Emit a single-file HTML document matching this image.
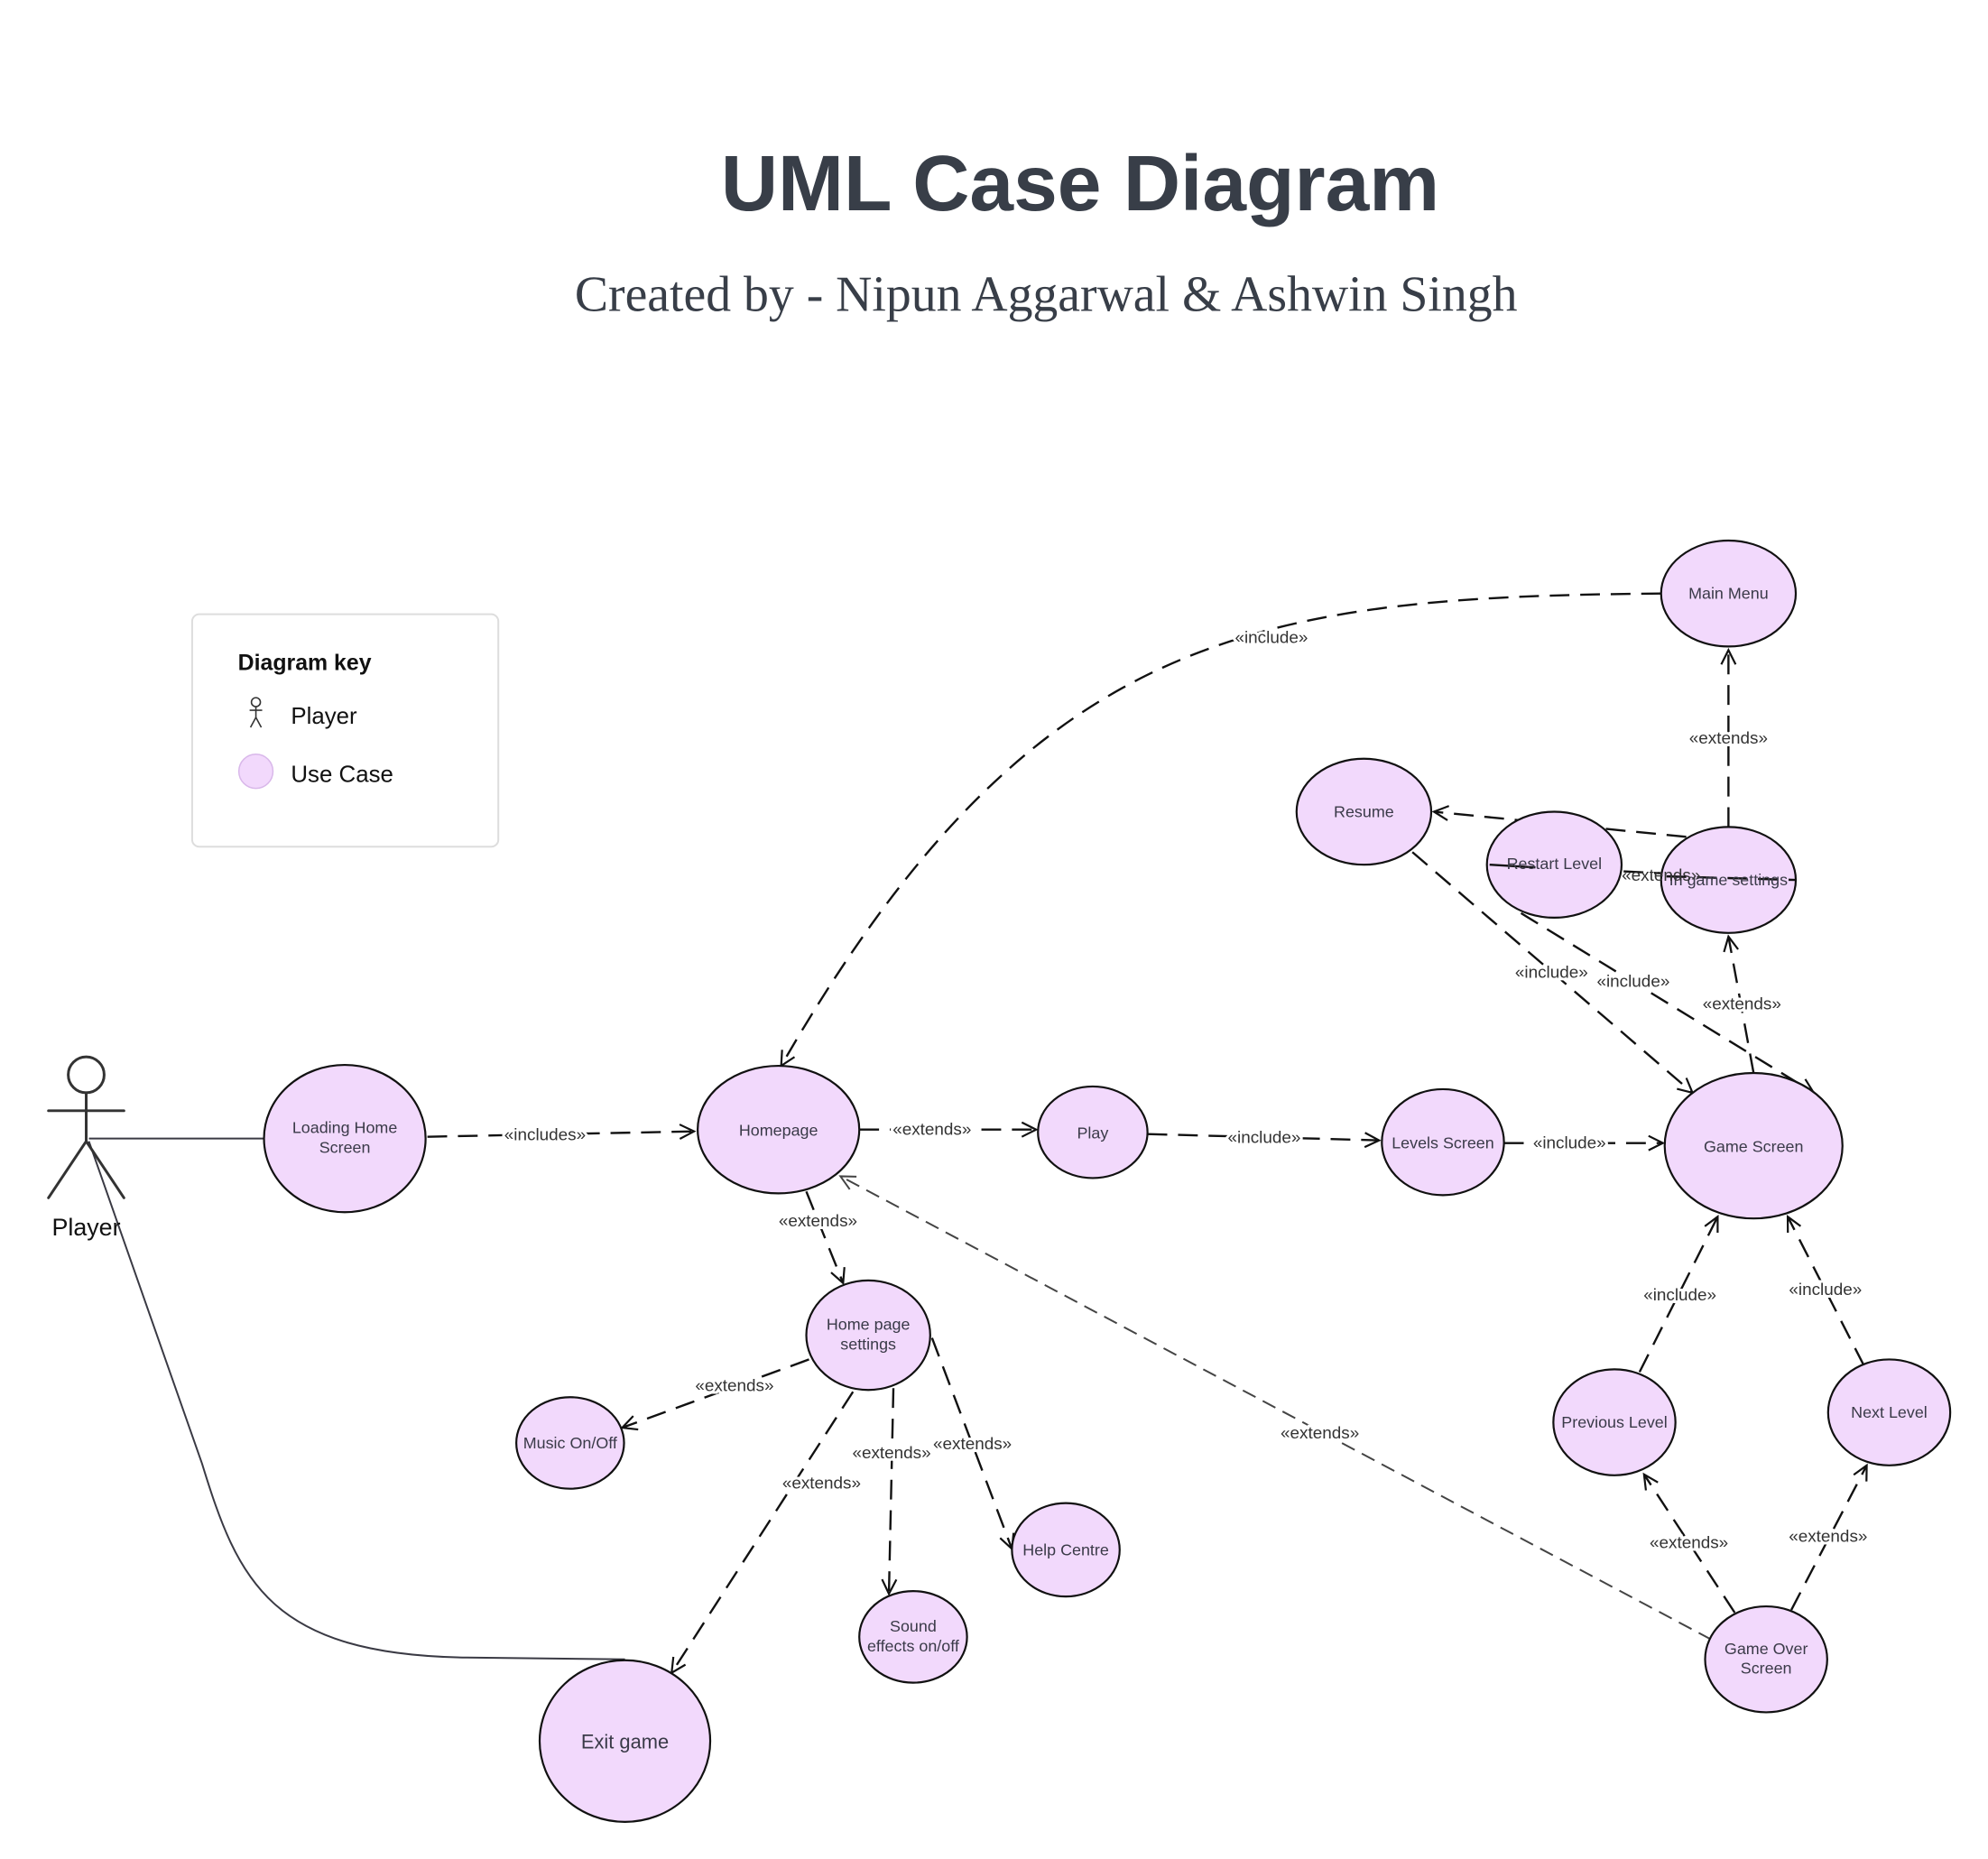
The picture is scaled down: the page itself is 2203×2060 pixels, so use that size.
<!DOCTYPE html>
<html><head><meta charset="utf-8"><style>
html,body{margin:0;padding:0;background:#fff;}
body{width:2203px;height:2060px;overflow:hidden;position:relative;font-family:"Liberation Sans",sans-serif;}
</style></head><body>
<svg width="2203" height="2060" viewBox="0 0 2203 2060" xmlns="http://www.w3.org/2000/svg" style="position:absolute;left:0;top:0">
<defs>
<marker id="a" markerWidth="22" markerHeight="22" refX="19" refY="11" orient="auto" markerUnits="userSpaceOnUse">
<path d="M3,3 L19,11 L3,19" fill="none" stroke="#111" stroke-width="2.2"/>
</marker>
<marker id="g" markerWidth="22" markerHeight="22" refX="19" refY="11" orient="auto" markerUnits="userSpaceOnUse">
<path d="M3,3 L19,11 L3,19" fill="none" stroke="#444" stroke-width="2"/>
</marker>
</defs>
<g transform="scale(0.995)">
<text x="1203" y="234" text-anchor="middle" font-family="Liberation Sans,sans-serif" font-weight="bold" font-size="88" fill="#383e48">UML Case Diagram</text>
<text x="1165" y="346" text-anchor="middle" font-family="Liberation Serif,serif" font-size="56" fill="#383e48">Created by -  Nipun Aggarwal &amp; Ashwin Singh</text>

<rect x="214" y="684" width="341" height="259" rx="8" fill="#fff" stroke="#ddd" stroke-width="2"/>
<text x="265" y="746" font-size="25" font-weight="bold" fill="#111">Diagram key</text>
<g stroke="#333" stroke-width="1.6" fill="none">
<circle cx="285" cy="782" r="5"/><line x1="285" y1="787" x2="285" y2="799"/><line x1="278" y1="791" x2="292" y2="791"/>
<line x1="285" y1="799" x2="279" y2="810"/><line x1="285" y1="799" x2="291" y2="810"/></g>
<text x="324" y="806" font-size="26" fill="#111">Player</text>
<circle cx="285" cy="859" r="19" fill="#f2d9fc" stroke="#d9b8ea" stroke-width="1.5"/>
<text x="324" y="871" font-size="26" fill="#111">Use Case</text>

<g fill="none" stroke="#3a3a44" stroke-width="2">
<line x1="99" y1="1268" x2="295" y2="1268"/>
<path d="M99 1271 L225 1630 C265 1760 300 1843 520 1846 L696 1848"/>
</g>

<g fill="none" stroke="#111" stroke-width="2.4" stroke-dasharray="22 12">
<line x1="476" y1="1266" x2="773" y2="1260" marker-end="url(#a)"/>
<line x1="957" y1="1258" x2="1154" y2="1258" marker-end="url(#a)"/>
<line x1="1278" y1="1263" x2="1536" y2="1270" marker-end="url(#a)"/>
<line x1="1675" y1="1273" x2="1852" y2="1273" marker-end="url(#a)"/>
<path d="M1850 661 C1400 665 1150 700 870 1187" marker-end="url(#a)"/>
<line x1="1925" y1="921" x2="1925" y2="724" marker-end="url(#a)"/>
<line x1="1878" y1="932" x2="1597" y2="904" marker-end="url(#a)"/>
<line x1="2000" y1="980" x2="1659" y2="963" marker-end="url(#a)"/>
<line x1="1573" y1="949" x2="1885" y2="1217" marker-end="url(#a)"/>
<line x1="1694" y1="1017" x2="2020" y2="1217" marker-end="url(#a)"/>
<line x1="1953" y1="1195" x2="1925" y2="1043" marker-end="url(#a)"/>
<line x1="1826" y1="1528" x2="1913" y2="1355" marker-end="url(#a)"/>
<line x1="2076" y1="1521" x2="1991" y2="1355" marker-end="url(#a)"/>
<line x1="1932" y1="1796" x2="1831" y2="1642" marker-end="url(#a)"/>
<line x1="1995" y1="1793" x2="2079" y2="1632" marker-end="url(#a)"/>
<line x1="898" y1="1327" x2="939" y2="1429" marker-end="url(#a)"/>
<line x1="901" y1="1514" x2="693" y2="1590" marker-end="url(#a)"/>
<line x1="995" y1="1546" x2="990" y2="1775" marker-end="url(#a)"/>
<line x1="1038" y1="1490" x2="1127" y2="1725" marker-end="url(#a)"/>
<line x1="950" y1="1550" x2="748" y2="1863" marker-end="url(#a)"/>
</g>
<line x1="1906" y1="1826" x2="936" y2="1310" stroke="#444" stroke-width="2" stroke-dasharray="16 9" fill="none" marker-end="url(#g)"/>

<g fill="#f2d9fc" stroke="#111" stroke-width="2.2">
<ellipse cx="384" cy="1268" rx="90" ry="82"/>
<ellipse cx="867" cy="1258" rx="90" ry="71"/>
<ellipse cx="1217" cy="1261" rx="61" ry="51"/>
<ellipse cx="1607" cy="1272" rx="68" ry="59"/>
<ellipse cx="1953" cy="1276" rx="99" ry="81"/>
<ellipse cx="1925" cy="661" rx="75" ry="59"/>
<ellipse cx="1519" cy="904" rx="75" ry="59"/>
<ellipse cx="1731" cy="963" rx="75" ry="59"/>
<ellipse cx="1925" cy="980" rx="75" ry="59"/>
<ellipse cx="1798" cy="1584" rx="68" ry="59"/>
<ellipse cx="2104" cy="1573" rx="68" ry="59"/>
<ellipse cx="1967" cy="1848" rx="68" ry="59"/>
<ellipse cx="967" cy="1487" rx="69" ry="61"/>
<ellipse cx="635" cy="1607" rx="60" ry="51"/>
<ellipse cx="1017" cy="1823" rx="60" ry="51"/>
<ellipse cx="1187" cy="1726" rx="60" ry="52"/>
<ellipse cx="696" cy="1939" rx="95" ry="90"/>
</g>
<line x1="1659" y1="963" x2="1710" y2="966" stroke="#111" stroke-width="2.4"/>
<line x1="1856" y1="976" x2="2000" y2="980" stroke="#111" stroke-width="2.4" stroke-dasharray="22 12"/>

<g stroke="#333" stroke-width="3" fill="none" stroke-linecap="round">
<circle cx="96" cy="1197" r="20"/>
<line x1="96" y1="1217" x2="96" y2="1271"/>
<line x1="54" y1="1237" x2="138" y2="1237"/>
<line x1="96" y1="1271" x2="54" y2="1334"/>
<line x1="96" y1="1271" x2="138" y2="1334"/>
</g>
<text x="96" y="1376" text-anchor="middle" font-size="27" fill="#111">Player</text>

<g font-size="18" fill="#3a3a48" text-anchor="middle">
<text x="384" y="1262">Loading Home</text><text x="384" y="1284">Screen</text>
<text x="867" y="1265">Homepage</text>
<text x="1217" y="1268">Play</text>
<text x="1607" y="1279">Levels Screen</text>
<text x="1953" y="1283">Game Screen</text>
<text x="1925" y="667">Main Menu</text>
<text x="1519" y="910">Resume</text>
<text x="1731" y="968">Restart Level</text>
<text x="1925" y="986">In game settings</text>
<text x="1798" y="1590">Previous Level</text>
<text x="2104" y="1579">Next Level</text>
<text x="1967" y="1842">Game Over</text><text x="1967" y="1864">Screen</text>
<text x="967" y="1481">Home page</text><text x="967" y="1503">settings</text>
<text x="635" y="1613">Music On/Off</text>
<text x="1017" y="1817">Sound</text><text x="1017" y="1839">effects on/off</text>
<text x="1187" y="1732">Help Centre</text>
<text x="696" y="1947" font-size="22">Exit game</text>
</g>

<text x="1850" y="981" font-size="19" fill="#333" text-anchor="middle">«extends»</text>
<g font-size="19" fill="#333" text-anchor="middle" stroke="#fff" stroke-width="6" paint-order="stroke">
<text x="607" y="1270">«includes»</text>
<text x="1038" y="1264">«extends»</text>
<text x="1408" y="1273">«include»</text>
<text x="1748" y="1279">«include»</text>
<text x="1416" y="716">«include»</text>
<text x="1925" y="828">«extends»</text>
<text x="1728" y="1089">«include»</text>
<text x="1819" y="1099">«include»</text>
<text x="1940" y="1124">«extends»</text>
<text x="1871" y="1448">«include»</text>
<text x="2033" y="1442">«include»</text>
<text x="1881" y="1724">«extends»</text>
<text x="2036" y="1717">«extends»</text>
<text x="1470" y="1602">«extends»</text>
<text x="911" y="1366">«extends»</text>
<text x="818" y="1549">«extends»</text>
<text x="993" y="1624">«extends»</text>
<text x="1083" y="1614">«extends»</text>
<text x="915" y="1658">«extends»</text>
</g>
</g>
</svg>
</body></html>
